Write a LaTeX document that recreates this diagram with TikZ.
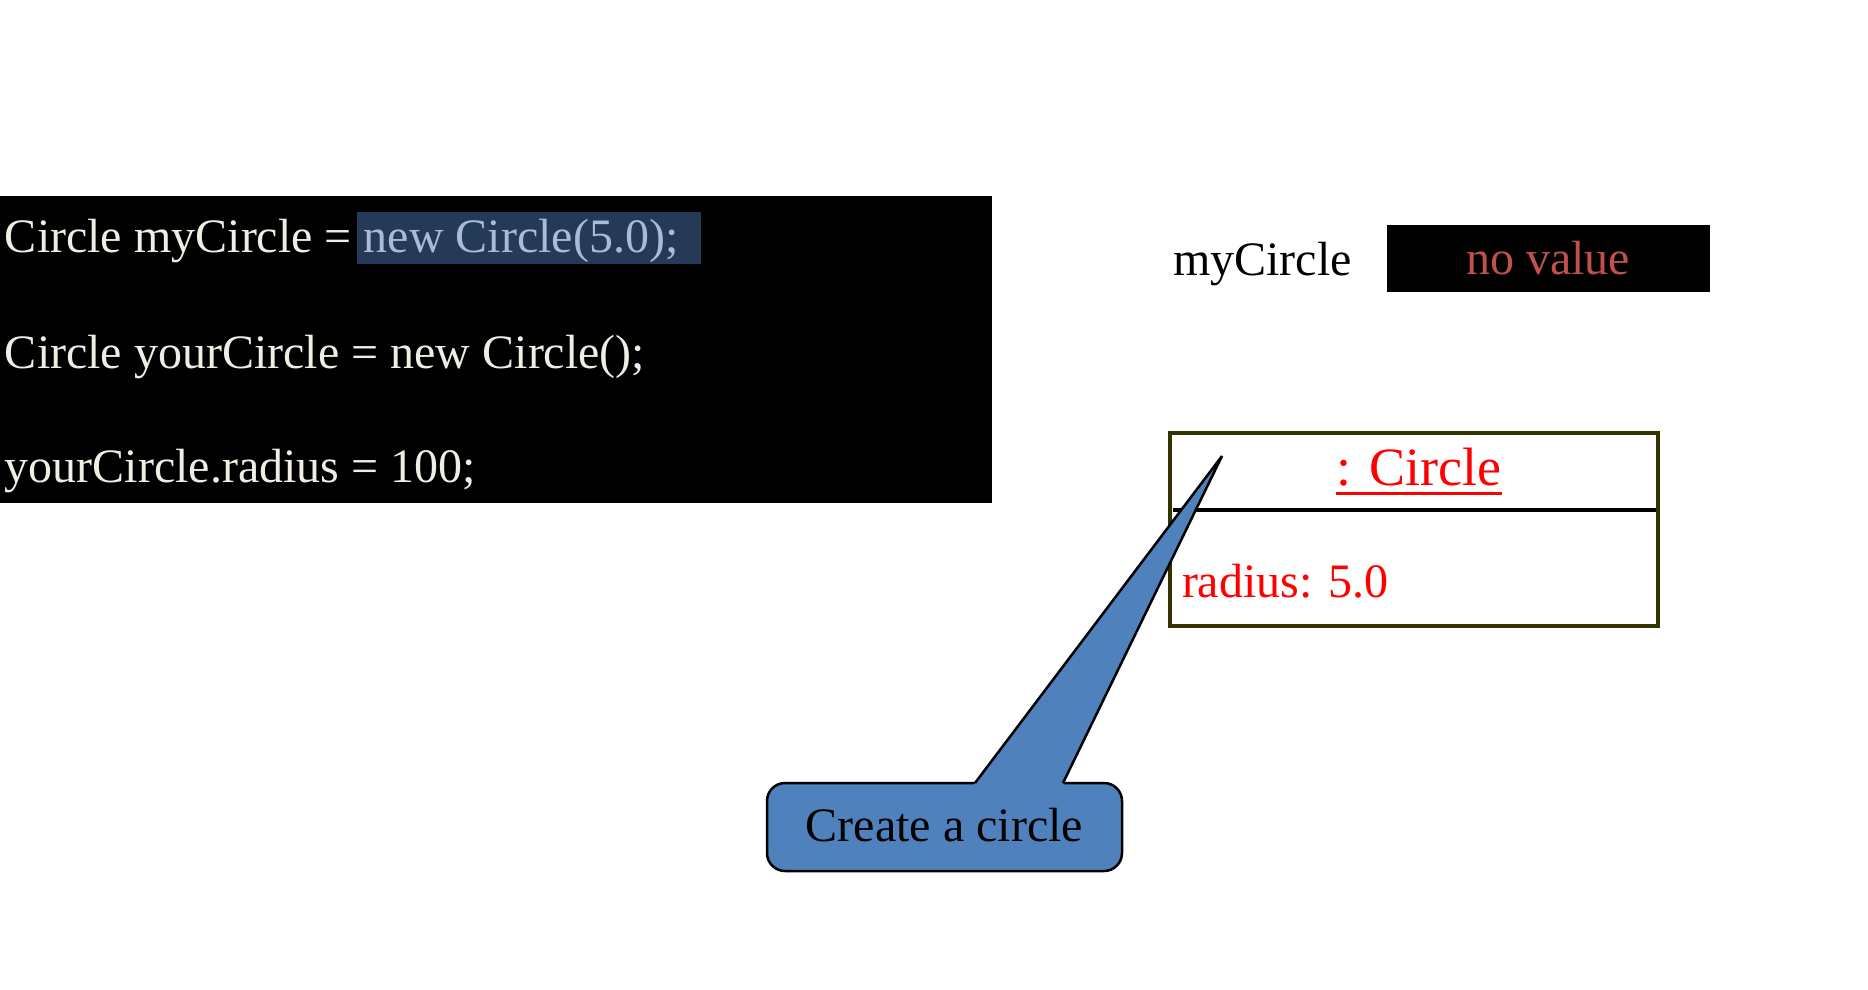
\documentclass[tikz,border=0pt]{standalone}
\usepackage{fontspec}
\setmainfont{Liberation Serif}
\definecolor{codetext}{HTML}{F0EEE4}
\definecolor{hlbg}{HTML}{243A56}
\definecolor{hltext}{HTML}{A8BCD8}
\definecolor{nvred}{HTML}{C0504D}
\definecolor{objborder}{HTML}{333300}
\definecolor{callfill}{HTML}{4F81BD}
\tikzset{
  txt/.style={inner sep=0pt, outer sep=0pt, font=\fontsize{48}{56}\selectfont},
  codeline/.style={txt, anchor=base west, text=codetext},
  callbox/.style={draw=black, line width=2.5pt, fill=callfill, rounded corners=18pt,
    minimum width=355pt, minimum height=88pt, inner sep=0pt,
    text height=34pt, text depth=6pt, font=\fontsize{48}{56}\selectfont},
}
\begin{document}
\begin{tikzpicture}[x=1pt,y=-1pt]
\useasboundingbox (0,0) rectangle (1868,989);
% code panel
\node[fill=black, inner sep=0pt, outer sep=0pt, minimum width=992pt, minimum height=307pt, anchor=north west] (code) at (0,196) {};
\node[fill=hlbg, inner sep=0pt, outer sep=0pt, minimum width=344pt, minimum height=52pt, anchor=north west] (hl) at (357,212) {};
\node[codeline] (l1) at (5,252) {Circle myCircle = \textcolor{hltext}{new Circle(5.0);}};
\node[codeline] (l2) at (5,368) {Circle yourCircle = new Circle();};
\node[codeline] (l3) at (5,482) {yourCircle.radius = 100;};
% reference variable
\node[txt, anchor=base west] (var) at (1173,275) {myCircle};
\node[fill=black, inner sep=0pt, outer sep=0pt, minimum width=323pt, minimum height=67pt, anchor=north west] (nv) at (1387,225) {};
\node[txt, anchor=base, text=nvred] (nvt) at (1548,274) {no value};
% object box
\node[draw=objborder, line width=4pt, inner sep=0pt, outer sep=0pt, minimum width=488pt, minimum height=193pt, anchor=north west] (obj) at (1170,433) {};
\draw[line width=4pt] (1173,510) -- (1656,510);
\node[inner sep=0pt, anchor=base, text=red, font=\fontsize{54}{60}\selectfont] (cls) at (1419,485) {: Circle};
\draw[red, line width=3pt] (cls.base west |- 0,493) -- (cls.base east |- 0,493);
\node[txt, anchor=base west, text=red] (rad) at (1182,597) {radius: 5.0};
% callout
\node[callbox] (call) at (944.5,827) {Create a circle};
\coordinate (tip) at (1222,456);
\coordinate (bl) at (975,783);
\coordinate (br) at (1063,783);
\fill[callfill] (973,786) -- (bl) -- (tip) -- (br) -- (1065,786) -- cycle;
\draw[line width=2.5pt, line join=miter] (bl) -- (tip) -- (br);
\end{tikzpicture}
\end{document}
